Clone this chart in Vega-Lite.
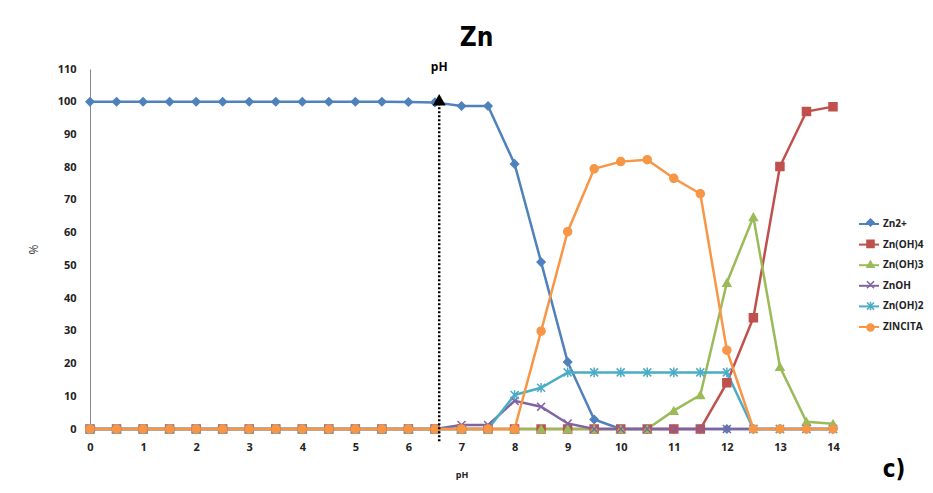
{
  "$schema": "https://vega.github.io/schema/vega-lite/v6.json",
  "width": 743,
  "height": 360,
  "autosize": "none",
  "padding": {"left": 90, "top": 69, "right": 100, "bottom": 64},
  "background": "white",
  "title": {"text": "Zn", "font": "DejaVu Sans Condensed", "fontSize": 26, "fontWeight": "bold", "color": "black", "anchor": "middle", "frame": "group", "dx": 15, "offset": 10},
  "config": {"view": {"stroke": null}, "font": "Open Sans"},
  "data": {"values": [
    {"pH": 0, "Zn2+": 100, "Zn(OH)4": 0, "Zn(OH)3": 0, "ZnOH": 0, "Zn(OH)2": 0, "ZINCITA": 0},
    {"pH": 0.5, "Zn2+": 100, "Zn(OH)4": 0, "Zn(OH)3": 0, "ZnOH": 0, "Zn(OH)2": 0, "ZINCITA": 0},
    {"pH": 1, "Zn2+": 100, "Zn(OH)4": 0, "Zn(OH)3": 0, "ZnOH": 0, "Zn(OH)2": 0, "ZINCITA": 0},
    {"pH": 1.5, "Zn2+": 100, "Zn(OH)4": 0, "Zn(OH)3": 0, "ZnOH": 0, "Zn(OH)2": 0, "ZINCITA": 0},
    {"pH": 2, "Zn2+": 100, "Zn(OH)4": 0, "Zn(OH)3": 0, "ZnOH": 0, "Zn(OH)2": 0, "ZINCITA": 0},
    {"pH": 2.5, "Zn2+": 100, "Zn(OH)4": 0, "Zn(OH)3": 0, "ZnOH": 0, "Zn(OH)2": 0, "ZINCITA": 0},
    {"pH": 3, "Zn2+": 100, "Zn(OH)4": 0, "Zn(OH)3": 0, "ZnOH": 0, "Zn(OH)2": 0, "ZINCITA": 0},
    {"pH": 3.5, "Zn2+": 100, "Zn(OH)4": 0, "Zn(OH)3": 0, "ZnOH": 0, "Zn(OH)2": 0, "ZINCITA": 0},
    {"pH": 4, "Zn2+": 100, "Zn(OH)4": 0, "Zn(OH)3": 0, "ZnOH": 0, "Zn(OH)2": 0, "ZINCITA": 0},
    {"pH": 4.5, "Zn2+": 100, "Zn(OH)4": 0, "Zn(OH)3": 0, "ZnOH": 0, "Zn(OH)2": 0, "ZINCITA": 0},
    {"pH": 5, "Zn2+": 100, "Zn(OH)4": 0, "Zn(OH)3": 0, "ZnOH": 0, "Zn(OH)2": 0, "ZINCITA": 0},
    {"pH": 5.5, "Zn2+": 100, "Zn(OH)4": 0, "Zn(OH)3": 0, "ZnOH": 0, "Zn(OH)2": 0, "ZINCITA": 0},
    {"pH": 6, "Zn2+": 99.9, "Zn(OH)4": 0, "Zn(OH)3": 0, "ZnOH": 0, "Zn(OH)2": 0, "ZINCITA": 0},
    {"pH": 6.5, "Zn2+": 99.8, "Zn(OH)4": 0, "Zn(OH)3": 0, "ZnOH": 0, "Zn(OH)2": 0, "ZINCITA": 0},
    {"pH": 7, "Zn2+": 98.7, "Zn(OH)4": 0, "Zn(OH)3": 0, "ZnOH": 1.2, "Zn(OH)2": 0, "ZINCITA": 0},
    {"pH": 7.5, "Zn2+": 98.7, "Zn(OH)4": 0, "Zn(OH)3": 0, "ZnOH": 1.2, "Zn(OH)2": 0, "ZINCITA": 0},
    {"pH": 8, "Zn2+": 81, "Zn(OH)4": 0, "Zn(OH)3": 0, "ZnOH": 8.6, "Zn(OH)2": 10.4, "ZINCITA": 0},
    {"pH": 8.5, "Zn2+": 51, "Zn(OH)4": 0, "Zn(OH)3": 0, "ZnOH": 6.8, "Zn(OH)2": 12.6, "ZINCITA": 29.9},
    {"pH": 9, "Zn2+": 20.5, "Zn(OH)4": 0, "Zn(OH)3": 0, "ZnOH": 1.7, "Zn(OH)2": 17.3, "ZINCITA": 60.3},
    {"pH": 9.5, "Zn2+": 2.9, "Zn(OH)4": 0, "Zn(OH)3": 0, "ZnOH": 0, "Zn(OH)2": 17.3, "ZINCITA": 79.5},
    {"pH": 10, "Zn2+": 0, "Zn(OH)4": 0, "Zn(OH)3": 0, "ZnOH": 0, "Zn(OH)2": 17.3, "ZINCITA": 81.7},
    {"pH": 10.5, "Zn2+": 0, "Zn(OH)4": 0, "Zn(OH)3": 0, "ZnOH": 0, "Zn(OH)2": 17.3, "ZINCITA": 82.3},
    {"pH": 11, "Zn2+": 0, "Zn(OH)4": 0, "Zn(OH)3": 5.6, "ZnOH": 0, "Zn(OH)2": 17.3, "ZINCITA": 76.6},
    {"pH": 11.5, "Zn2+": 0, "Zn(OH)4": 0, "Zn(OH)3": 10.4, "ZnOH": 0, "Zn(OH)2": 17.3, "ZINCITA": 71.9},
    {"pH": 12, "Zn2+": 0, "Zn(OH)4": 14.1, "Zn(OH)3": 44.7, "ZnOH": 0, "Zn(OH)2": 17.3, "ZINCITA": 24.1},
    {"pH": 12.5, "Zn2+": 0, "Zn(OH)4": 34, "Zn(OH)3": 64.8, "ZnOH": 0, "Zn(OH)2": 0, "ZINCITA": 0},
    {"pH": 13, "Zn2+": 0, "Zn(OH)4": 80.2, "Zn(OH)3": 19, "ZnOH": 0, "Zn(OH)2": 0, "ZINCITA": 0},
    {"pH": 13.5, "Zn2+": 0, "Zn(OH)4": 97, "Zn(OH)3": 2.2, "ZnOH": 0, "Zn(OH)2": 0, "ZINCITA": 0},
    {"pH": 14, "Zn2+": 0, "Zn(OH)4": 98.5, "Zn(OH)3": 1.6, "ZnOH": 0, "Zn(OH)2": 0, "ZINCITA": 0}
  ]},
  "transform": [{"fold": ["Zn2+", "Zn(OH)4", "Zn(OH)3", "ZnOH", "Zn(OH)2", "ZINCITA"], "as": ["species", "pct"]}],
  "encoding": {
    "x": {"field": "pH", "type": "quantitative", "scale": {"domain": [0, 14], "nice": false, "zero": false},
      "axis": {"values": [0,1,2,3,4,5,6,7,8,9,10,11,12,13,14], "title": "pH", "grid": false, "ticks": false, "labelFlush": false, "domainColor": "#888888", "labelFontSize": 11, "labelFontWeight": "bold", "labelColor": "#222222", "labelPadding": 12, "titleFontSize": 9, "titleFontWeight": "bold", "titleColor": "#222222", "titlePadding": 18}},
    "y": {"field": "pct", "type": "quantitative", "scale": {"domain": [0, 110], "nice": false},
      "axis": {"values": [0,10,20,30,40,50,60,70,80,90,100,110], "title": "%", "grid": false, "ticks": false, "domainColor": "#888888", "labelFontSize": 11, "labelFontWeight": "bold", "labelColor": "#222222", "labelPadding": 14, "titleFontSize": 12, "titleFontWeight": "normal", "titleColor": "#333333", "titlePadding": 17}}
  },
  "layer": [
    {
      "mark": {"type": "line", "strokeWidth": 2.5},
      "encoding": {
        "color": {"field": "species", "type": "nominal", "title": null,
          "scale": {"domain": ["Zn2+", "Zn(OH)4", "Zn(OH)3", "ZnOH", "Zn(OH)2", "ZINCITA", "-"], "range": ["#4F81BD", "#C0504D", "#9BBB59", "#8064A2", "#4BACC6", "#F79646", "#FFFFFF"]},
          "legend": {"values": ["Zn2+", "Zn(OH)4", "Zn(OH)3", "ZnOH", "Zn(OH)2", "ZINCITA"], "orient": "none", "legendX": 768, "legendY": 144, "symbolType": "stroke", "symbolSize": 400, "symbolStrokeWidth": 2, "labelFontSize": 10, "labelFontWeight": "bold", "labelColor": "#222222", "rowPadding": 4.6, "labelOffset": 3}}
      }
    },
    {
      "mark": {"type": "point", "filled": true, "strokeWidth": 1.5, "size": 64, "opacity": 1},
      "encoding": {
        "fill": {"field": "species", "type": "nominal", "title": null,
          "scale": {"domain": ["Zn2+", "Zn(OH)4", "Zn(OH)3", "ZnOH", "Zn(OH)2", "ZINCITA"], "range": ["#4F81BD", "#C0504D", "#9BBB59", "#8064A2", "#4BACC6", "#F79646"]}},
        "stroke": {"field": "species", "type": "nominal", "title": null,
          "scale": {"domain": ["Zn2+", "Zn(OH)4", "Zn(OH)3", "ZnOH", "Zn(OH)2", "ZINCITA"], "range": ["#4F81BD", "#C0504D", "#9BBB59", "#8064A2", "#4BACC6", "#F79646"]}},
        "shape": {"field": "species", "type": "nominal", "title": null,
          "scale": {"domain": ["Zn2+", "Zn(OH)4", "Zn(OH)3", "ZnOH", "Zn(OH)2", "ZINCITA"], "range": ["diamond", "square", "triangle-up", "M-1,-1L1,1M-1,1L1,-1", "M-1,-1L1,1M-1,1L1,-1M0,-1.2L0,1.2", "circle"]},
          "legend": {"orient": "none", "legendX": 776, "legendY": 149, "symbolSize": 50, "symbolStrokeWidth": 1.5, "labelExpr": "''", "labelFontSize": 1, "rowPadding": 6.4, "labelOffset": 0}}
      }
    },
    {
      "data": {"values": [{"pH": 6.58, "top": 99.5, "bottom": -3.8}]},
      "transform": [],
      "mark": {"type": "rule", "color": "black", "strokeWidth": 2.5, "strokeDash": [2, 2]},
      "encoding": {"x": {"field": "pH", "type": "quantitative"}, "y": {"field": "top", "type": "quantitative"}, "y2": {"field": "bottom"}}
    },
    {
      "data": {"values": [{"pH": 6.58, "top": 100.6}]},
      "transform": [],
      "mark": {"type": "point", "shape": "triangle-up", "filled": true, "color": "black", "size": 170, "opacity": 1},
      "encoding": {"x": {"field": "pH", "type": "quantitative"}, "y": {"field": "top", "type": "quantitative"}}
    },
    {
      "data": {"values": [{"pH": 6.58, "top": 110.5, "label": "pH"}]},
      "transform": [],
      "mark": {"type": "text", "fontWeight": "bold", "fontSize": 12, "color": "black", "font": "Open Sans"},
      "encoding": {"x": {"field": "pH", "type": "quantitative"}, "y": {"field": "top", "type": "quantitative"}, "text": {"field": "label"}}
    },
    {
      "data": {"values": [{"pH": 15.15, "top": -12.6, "label": "c)"}]},
      "transform": [],
      "mark": {"type": "text", "fontWeight": "bold", "fontSize": 24, "color": "black", "font": "DejaVu Sans Condensed"},
      "encoding": {"x": {"field": "pH", "type": "quantitative"}, "y": {"field": "top", "type": "quantitative"}, "text": {"field": "label"}}
    }
  ]
}
